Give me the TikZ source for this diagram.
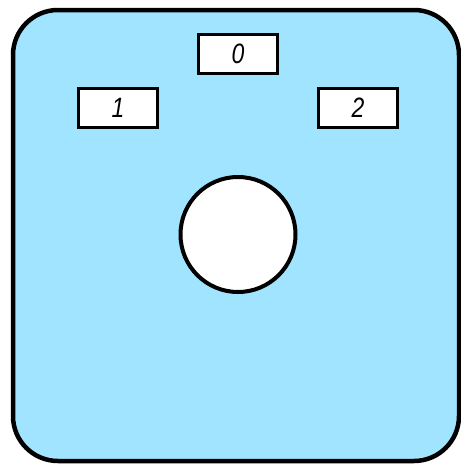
\documentclass[tikz,border=0pt]{standalone}
\usepackage{fontspec}
\setmainfont{Liberation Sans}
\usetikzlibrary{positioning}
\definecolor{panelblue}{HTML}{A0E4FF}
\newcommand\slotlabel[1]{\scalebox{0.82}[1]{#1}}
\tikzset{
  slotbox/.style={draw, line width=3.5pt, fill=white, minimum width=79pt, minimum height=39pt, inner sep=0pt, font=\itshape\fontsize{28}{28}\selectfont},
  hole/.style={circle, draw, line width=4pt, fill=white, minimum size=115pt, inner sep=0pt}
}

\begin{document}
\begin{tikzpicture}[x=1pt, y=-1pt]
  \useasboundingbox (0,0) rectangle (461,464);
  \node [draw, line width=4.5pt, fill=panelblue, rounded corners=45pt, minimum width=446pt, minimum height=451pt, inner sep=0pt] (panel) at (236,235.5) {};

  \foreach \n/\x/\y in {0/238/54, 1/118/108, 2/358/108} {
    \node [slotbox] (slot\n) at (\x,\y) {\slotlabel{\n}};
  }
  \node [hole] (hole) at (238,234.5) {};
\end{tikzpicture}
\end{document}
